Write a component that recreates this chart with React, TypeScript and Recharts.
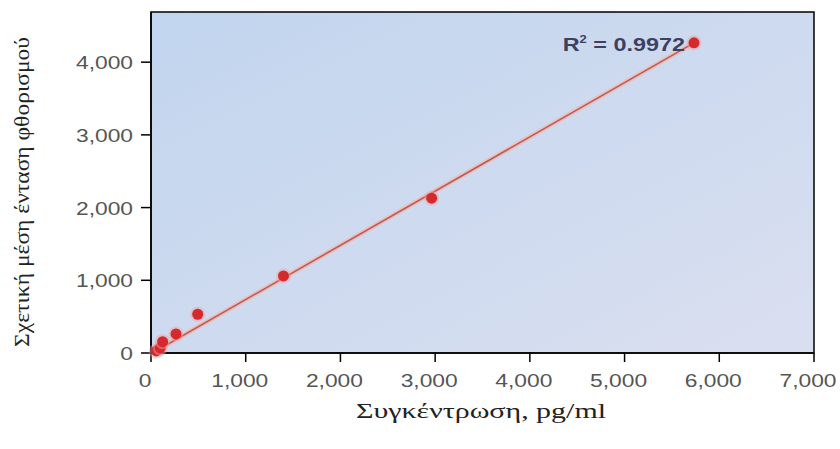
import React from 'react';
import {
  ComposedChart,
  Scatter,
  XAxis,
  YAxis,
  ReferenceArea,
  ReferenceLine,
  ReferenceDot,
  Label,
} from 'recharts';

// ---- data ----
const concentration = [56, 98, 123, 264, 493, 1399, 2963, 5733];
const intensity = [28, 69, 156, 262, 533, 1060, 2130, 4266];
const xTicks = [0, 1000, 2000, 3000, 4000, 5000, 6000, 7000];
const yTicks = [0, 1000, 2000, 3000, 4000];
const xDomain = [0, 7000];
const yDomain = [0, 4690];
const fitStart = { x: 15, y: 0 };
const fitEnd = { x: 5733, y: 4266 };
const r2Value = '0.9972';
const r2Anchor = { x: 5638, y: 4256 };
const xTitle = 'Συγκέντρωση, pg/ml';
const yTitle = 'Σχετική μέση ένταση φθορισμού';

const points = concentration.map((c, i) => ({ x: c, y: intensity[i] }));

const fmt = (v: number) => v.toLocaleString('en-US');

const XTick = (p: any) => (
  <g transform={`translate(${p.x - 6},${p.y + 23}) scale(1.2,1)`}>
    <text x={0} y={0} textAnchor="middle" fill="#555" fontFamily="'Liberation Sans', Arial, sans-serif" fontSize={19}>
      {fmt(p.payload.value)}
    </text>
  </g>
);

const YTick = (p: any) => (
  <g transform={`translate(${p.x},${p.y + 7}) scale(1.2,1)`}>
    <text x={0} y={0} textAnchor="end" fill="#555" fontFamily="'Liberation Sans', Arial, sans-serif" fontSize={19}>
      {fmt(p.payload.value)}
    </text>
  </g>
);

const Dot = (p: any) => (
  <g>
    <circle cx={p.cx} cy={p.cy} r={7.5} fill="#f2a0a0" opacity={0.45} />
    <circle cx={p.cx} cy={p.cy} r={5.5} fill="#d42a2e" />
  </g>
);

const R2 = (p: any) => (
  <g transform={`translate(${p.cx},${p.cy + 7}) scale(1.3,1)`}>
    <text x={0} y={0} textAnchor="end" fill="#3d4060" fontFamily="'Liberation Sans', Arial, sans-serif" fontSize={18} fontWeight="bold">
      R
      <tspan fontSize={10} dy={-8}>2</tspan>
      <tspan dy={8}> = {r2Value}</tspan>
    </text>
  </g>
);

export default function App() {
  return (
    <div style={{ position: 'absolute', left: 0, top: 0, width: 840, height: 449, background: '#fff' }}>
      <ComposedChart width={840} height={449} margin={{ top: 12, right: 26, left: 0, bottom: 0 }}>
        <defs>
          <linearGradient id="bg" x1="0" y1="0" x2="1" y2="1">
            <stop offset="0%" stopColor="#c1d5ee" />
            <stop offset="100%" stopColor="#dadff0" />
          </linearGradient>
        </defs>
        <XAxis
          type="number"
          dataKey="x"
          domain={xDomain}
          ticks={xTicks}
          interval={0}
          height={96}
          tickSize={9}
          tickMargin={2}
          axisLine={{ stroke: '#000', strokeWidth: 1.5 }}
          tickLine={{ stroke: '#000', strokeWidth: 1.5 }}
          tick={<XTick />}
        >
          <Label
            content={() => (
              <text x={481} y={418} textAnchor="middle" fill="#222" fontFamily="'Liberation Serif', 'Times New Roman', serif" fontSize={20} textLength={250} lengthAdjust="spacingAndGlyphs">
                {xTitle}
              </text>
            )}
          />
        </XAxis>
        <YAxis
          type="number"
          dataKey="y"
          domain={yDomain}
          ticks={yTicks}
          interval={0}
          width={151}
          tickSize={10}
          tickMargin={8}
          axisLine={{ stroke: '#000', strokeWidth: 1.5 }}
          tickLine={{ stroke: '#000', strokeWidth: 1.5 }}
          tick={<YTick />}
        >
          <Label
            content={() => (
              <text x={22} y={192} transform="rotate(-90 22 192)" textAnchor="middle" dominantBaseline="central" fill="#222" fontFamily="'Liberation Serif', 'Times New Roman', serif" fontSize={20} textLength={310} lengthAdjust="spacingAndGlyphs">
                {yTitle}
              </text>
            )}
          />
        </YAxis>
        <ReferenceArea
          x1={xDomain[0]}
          x2={xDomain[1]}
          y1={yDomain[0]}
          y2={yDomain[1]}
          fill="url(#bg)"
          fillOpacity={1}
          stroke="#000"
          strokeWidth={1.5}
        />
        <ReferenceLine
          segment={[fitStart, fitEnd]}
          stroke="#f3b7ae"
          strokeWidth={5}
          strokeOpacity={0.7}
        />
        <ReferenceLine
          segment={[fitStart, fitEnd]}
          stroke="#b85c58"
          strokeWidth={1.6}
        />
        <Scatter data={points} dataKey="y" shape={<Dot />} isAnimationActive={false} />
        <ReferenceDot x={r2Anchor.x} y={r2Anchor.y} r={0} shape={<R2 />} />
      </ComposedChart>
    </div>
  );
}
